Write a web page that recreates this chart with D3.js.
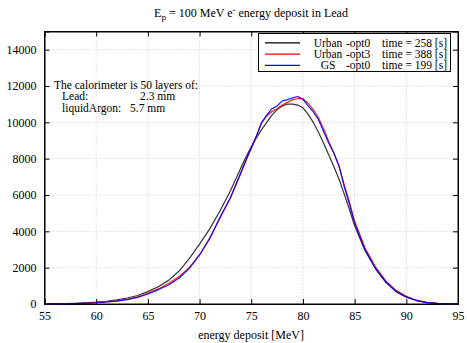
<!DOCTYPE html>
<html>
<head>
<meta charset="utf-8">
<script src="https://cdnjs.cloudflare.com/ajax/libs/d3/7.8.5/d3.min.js"></script>
<style>
  body { margin: 0; background: #fff; }
  text { font-family: "Liberation Serif", "DejaVu Serif", serif; }
</style>
</head>
<body>
<script>
// energy bins [MeV]
var energy = [55, 56, 57, 58, 59, 60, 61, 62, 63, 64, 65, 66, 67, 68, 69, 70, 71, 72, 73,
    74, 74.5, 75, 75.5, 76, 76.5, 77, 77.5, 78, 78.5, 79, 79.5, 80, 80.5, 81, 81.5, 82, 82.5, 83, 83.5, 84, 84.5, 85,
    86, 87, 88, 89, 90, 91, 92, 93, 94, 95];

// counts per bin, one array per physics list
var urbanOpt0 = [0, 8, 20, 40, 65, 100, 150, 230, 330, 470, 680, 950, 1300, 1800, 2500, 3300, 4150, 5150, 6250,
    7500, 8100, 8650, 9150, 9600, 10000, 10400, 10700, 10900, 11000, 11000, 10950, 10800, 10450, 10000, 9450, 8850, 8200, 7550, 6850, 6050, 5200, 4300,
    2950, 1950, 1200, 680, 380, 180, 80, 30, 10, 2];

var urbanOpt3 = [0, 5, 14, 28, 50, 80, 120, 175, 260, 390, 590, 830, 1130, 1500, 2000, 2700, 3600, 4750, 5850,
    7200, 7900, 8550, 9250, 9950, 10350, 10600, 10750, 10950, 11100, 11250, 11300, 11300, 11050, 10700, 10250, 9650, 8950, 8300, 7550, 6550, 5600, 4550,
    3100, 2060, 1290, 750, 430, 210, 95, 35, 12, 3];

var gsOpt0 = [0, 5, 12, 25, 45, 70, 110, 160, 240, 360, 550, 780, 1050, 1420, 1950, 2700, 3650, 4800, 5880,
    7250, 7950, 8600, 9250, 10000, 10400, 10750, 10900, 11180, 11250, 11350, 11420, 11270, 10910, 10570, 10150, 9500, 8850, 8300, 7600, 6450, 5500, 4450,
    3000, 1980, 1230, 700, 390, 190, 80, 30, 10, 2];

// legend entries
var seriesNames = ["Urban", "Urban", "GS"];
var seriesOpts = ["-opt0", "-opt3", "-opt0"];
var seriesTimes = [258, 388, 199];
var seriesColors = ["#000000", "#ff0000", "#0000ff"];

var xTicks = [55, 60, 65, 70, 75, 80, 85, 90, 95];
var yTicks = [0, 2000, 4000, 6000, 8000, 10000, 12000, 14000];

// calorimeter description
var noteLines = ["Lead:", "liquidArgon:"];
var noteValues = ["2.3 mm", "5.7 mm"];

var width = 467,
    height = 343;
// plot box (window.top is reserved, so use own names)
var plotLeft = 44.5, plotRight = 458, plotTop = 31.5, plotBottom = 304;

var svg = d3.select("body")
    .append("svg")
    .attr("width", width)
    .attr("height", height);

var x = d3.scaleLinear().domain([55, 95]).range([plotLeft, plotRight]);
var y = d3.scaleLinear().domain([0, 15000]).range([plotBottom, plotTop]);

//dotted grid
var grid = svg.append("g");
grid.selectAll(".vg")
    .data(xTicks.slice(1, -1))
    .enter()
    .append("line")
    .attr("x1", function (d) { return x(d); })
    .attr("x2", function (d) { return x(d); })
    .attr("y1", plotTop)
    .attr("y2", plotBottom)
    .attr("stroke", "#c8c8c8")
    .attr("stroke-dasharray", "1,2");
grid.selectAll(".hg")
    .data(yTicks.slice(1))
    .enter()
    .append("line")
    .attr("x1", plotLeft)
    .attr("x2", plotRight)
    .attr("y1", function (d) { return y(d); })
    .attr("y2", function (d) { return y(d); })
    .attr("stroke", "#c8c8c8")
    .attr("stroke-dasharray", "1,2");

// axes with inward ticks on all four sides
svg.append("g")
    .attr("transform", "translate(0," + plotBottom + ")")
    .call(d3.axisBottom(x).tickValues(xTicks).tickSize(-5).tickPadding(7));
svg.append("g")
    .attr("transform", "translate(0," + plotTop + ")")
    .call(d3.axisTop(x).tickValues(xTicks).tickSize(-5).tickFormat(""));
svg.append("g")
    .attr("transform", "translate(" + plotLeft + ",0)")
    .call(d3.axisLeft(y).tickValues(yTicks).tickSize(-5).tickPadding(8).tickFormat(d3.format("d")));
svg.append("g")
    .attr("transform", "translate(" + plotRight + ",0)")
    .call(d3.axisRight(y).tickValues(yTicks).tickSize(-5).tickFormat(""));

svg.selectAll(".domain").attr("stroke", "#000");
svg.selectAll(".tick line").attr("stroke", "#000");
svg.selectAll(".tick text")
    .style("font-family", "Liberation Serif")
    .style("font-size", "12px")
    .attr("fill", "#000");

// the curves
var line = d3.line()
    .x(function (d, i) { return x(energy[i]); })
    .y(function (d) { return y(d); });

var allSeries = [urbanOpt0, urbanOpt3, gsOpt0];
svg.append("g")
    .selectAll("path")
    .data(allSeries)
    .enter()
    .append("path")
    .attr("d", function (d) { return line(d); })
    .attr("fill", "none")
    .attr("stroke", function (d, i) { return seriesColors[i]; })
    .attr("stroke-opacity", function (d, i) { return i == 0 ? 0.8 : 0.9; })
    .attr("stroke-width", 1.2)
    .attr("stroke-linejoin", "round");

// frame on top
svg.append("rect")
    .attr("x", plotLeft)
    .attr("y", plotTop)
    .attr("width", plotRight - plotLeft)
    .attr("height", plotBottom - plotTop)
    .attr("fill", "none")
    .attr("stroke", "#000");

// legend
var legend = svg.append("g");
legend.append("rect")
    .attr("x", 258.5)
    .attr("y", 33.5)
    .attr("width", 192)
    .attr("height", 38)
    .attr("fill", "#fff")
    .attr("stroke", "#000");

var rows = legend.selectAll(".row")
    .data(seriesNames)
    .enter()
    .append("g")
    .attr("transform", function (d, i) { return "translate(0," + (42.8 + i * 11.3) + ")"; });
rows.append("line")
    .attr("x1", 265)
    .attr("x2", 300)
    .attr("stroke", function (d, i) { return seriesColors[i]; })
    .attr("stroke-width", 1.2);
rows.append("text")
    .attr("x", 328)
    .attr("y", 4)
    .attr("text-anchor", "middle")
    .style("font-size", "11.5px")
    .text(function (d) { return d; });
rows.append("text")
    .attr("x", 346)
    .attr("y", 4)
    .style("font-size", "11.5px")
    .text(function (d, i) { return seriesOpts[i]; });
rows.append("text")
    .attr("x", 447)
    .attr("y", 4)
    .attr("text-anchor", "end")
    .style("font-size", "11.5px")
    .text(function (d, i) { return "time = " + seriesTimes[i] + " [s]"; });

// calorimeter note
svg.append("text")
    .attr("x", 54)
    .attr("y", 88.5)
    .style("font-size", "11.5px")
    .text("The calorimeter is 50 layers of:");
svg.selectAll(".note")
    .data(noteLines)
    .enter()
    .append("text")
    .attr("x", 62)
    .attr("y", function (d, i) { return 100 + i * 11.5; })
    .style("font-size", "11.5px")
    .text(function (d) { return d; });
svg.selectAll(".noteval")
    .data(noteValues)
    .enter()
    .append("text")
    .attr("x", function (d, i) { return i == 0 ? 140 : 130; })
    .attr("y", function (d, i) { return 100 + i * 11.5; })
    .style("font-size", "11.5px")
    .text(function (d) { return d; });

// title
var title = svg.append("text")
    .attr("x", 251)
    .attr("y", 17)
    .attr("text-anchor", "middle")
    .style("font-size", "12px");
title.append("tspan").text("E");
title.append("tspan").attr("dy", 3).style("font-size", "9px").text("p");
title.append("tspan").attr("dy", -3).text(" = 100 MeV e");
title.append("tspan").attr("dy", -4).style("font-size", "9px").text("-");
title.append("tspan").attr("dy", 4).text(" energy deposit in Lead");

// x label
svg.append("text")
    .attr("x", 251)
    .attr("y", 339)
    .attr("text-anchor", "middle")
    .style("font-size", "12px")
    .text("energy deposit [MeV]");
</script>
</body>
</html>
